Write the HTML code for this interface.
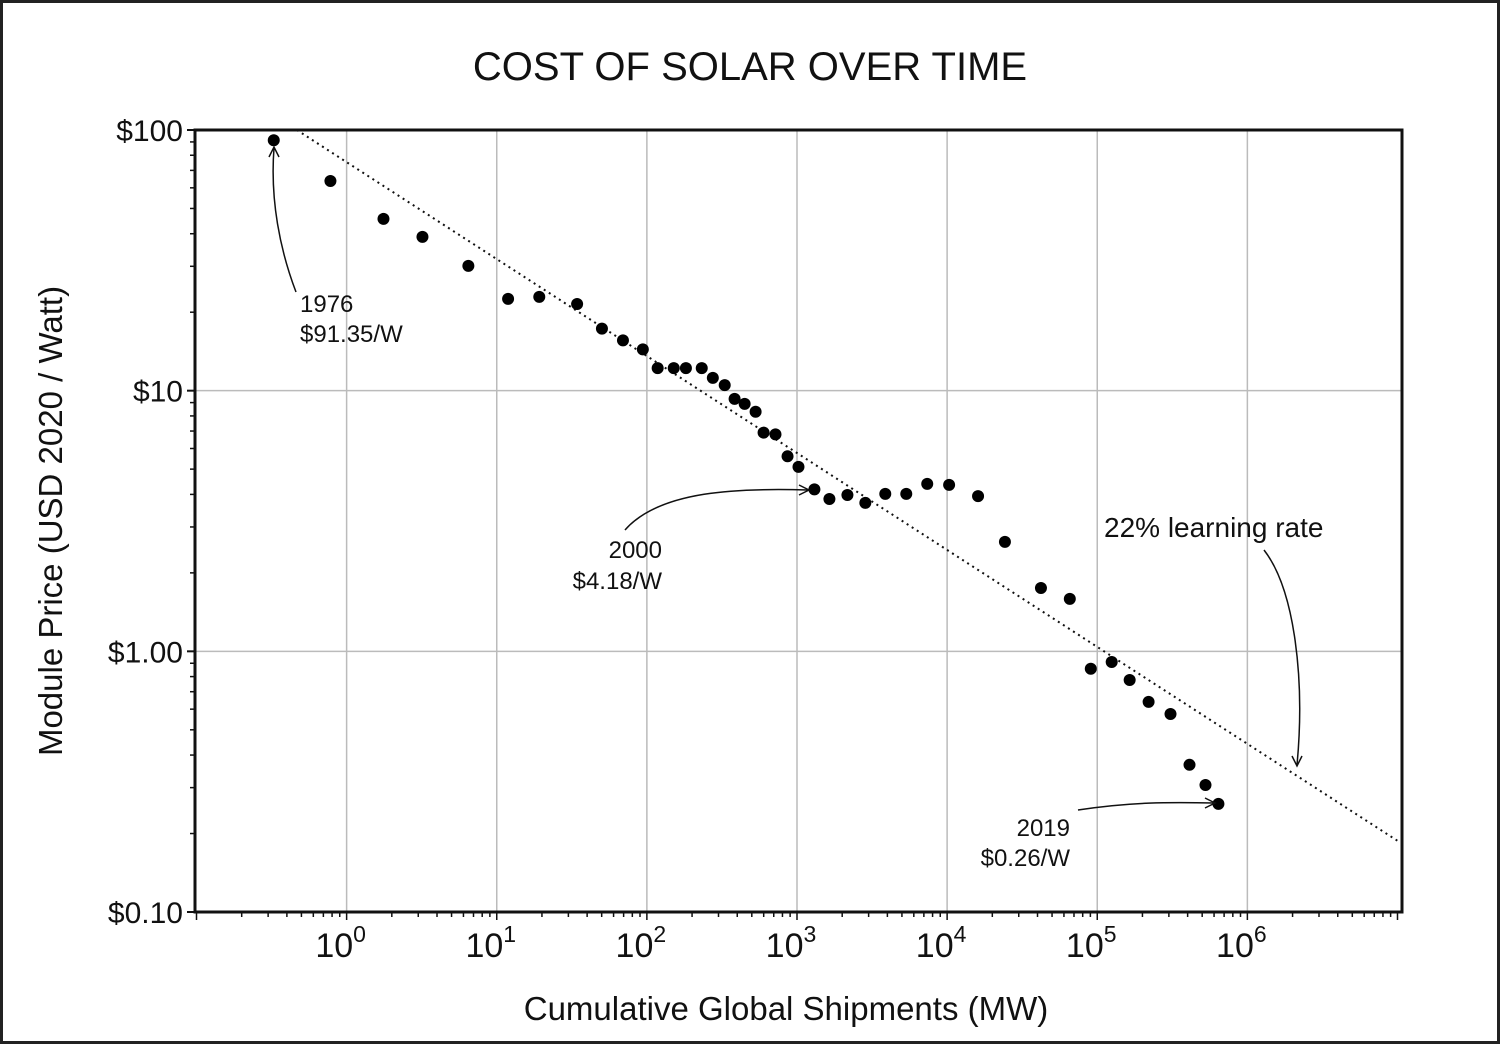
<!DOCTYPE html>
<html><head><meta charset="utf-8"><style>
body{margin:0;background:#fff}
svg text{font-family:"Liberation Sans",sans-serif;fill:#111}
</style></head><body>
<svg width="1500" height="1044" viewBox="0 0 1500 1044">
<rect x="1.5" y="1.5" width="1497" height="1041" fill="#fff" stroke="#222" stroke-width="3"/>
<text x="750" y="80" font-size="40" text-anchor="middle">COST OF SOLAR OVER TIME</text>
<g id="grid"></g>
<g id="trend"></g>
<g id="pts"></g>
<g id="axes"></g>
<text transform="translate(62,521) rotate(-90)" font-size="33" text-anchor="middle">Module Price (USD 2020 / Watt)</text>
<text x="786" y="1020" font-size="33" text-anchor="middle">Cumulative Global Shipments (MW)</text>
<g>
<text x="300" y="312" font-size="24">1976</text><text x="300" y="342" font-size="24">$91.35/W</text>
<path d="M296,292 C280,250 270,200 274,148" fill="none" stroke="#111" stroke-width="1.5"/>
<path d="M269,157 L274,147 L279,157" fill="none" stroke="#111" stroke-width="1.5"/>
</g>
<g>
<text x="662" y="558" font-size="24" text-anchor="end">2000</text><text x="662" y="589" font-size="24" text-anchor="end">$4.18/W</text>
<path d="M625,530 C660,490 740,488 808,490" fill="none" stroke="#111" stroke-width="1.5"/>
<path d="M799,485 L809,490 L799,495" fill="none" stroke="#111" stroke-width="1.5"/>
</g>
<g>
<text x="1070" y="836" font-size="24" text-anchor="end">2019</text><text x="1070" y="866" font-size="24" text-anchor="end">$0.26/W</text>
<path d="M1078,810 C1130,802 1170,802 1214,803" fill="none" stroke="#111" stroke-width="1.5"/>
<path d="M1205,798 L1215,803 L1205,808" fill="none" stroke="#111" stroke-width="1.5"/>
</g>
<g>
<text x="1104" y="537" font-size="28">22% learning rate</text>
<path d="M1264,550 C1295,590 1305,680 1297,765" fill="none" stroke="#111" stroke-width="1.5"/>
<path d="M1292,756 L1297,766 L1302,756" fill="none" stroke="#111" stroke-width="1.5"/>
</g>
</svg>
<script>
const shipments=[0.327,0.78,1.76,3.2,6.47,11.9,19.2,34.3,50.2,69.3,94,118,151,182,232,275,330,384,448,530,599,719,865,1023,1306,1644,2167,2852,3873,5344,7370,10310,16070,24270,42170,65650,90570,124800,164400,219800,307600,411700,526000,641500];
const prices=[91.35,63.7,45.6,38.9,30.1,22.5,22.9,21.5,17.3,15.6,14.4,12.2,12.2,12.2,12.2,11.2,10.5,9.3,8.9,8.3,6.9,6.8,5.6,5.1,4.18,3.84,3.98,3.71,4.02,4.02,4.39,4.35,3.94,2.63,1.75,1.59,0.857,0.91,0.776,0.64,0.575,0.367,0.307,0.26];
const yTickVals=[100,10,1,0.1];
const yTickLabels=["$100","$10","$1.00","$0.10"];
const xTickExps=[0,1,2,3,4,5,6];
const trendStart=[0.466,100];
const trendEnd=[10230000,0.186];
const NS="http://www.w3.org/2000/svg";
const L=195,R=1402,T=130,B=912;
const xMinLog=-1.01,xMaxLog=7.03,yMinLog=-1,yMaxLog=2;
function X(v){return L+(Math.log10(v)-xMinLog)/(xMaxLog-xMinLog)*(R-L);}
function Y(v){return B-(Math.log10(v)-yMinLog)/(yMaxLog-yMinLog)*(B-T);}
function mk(tag,attrs,parent){const e=document.createElementNS(NS,tag);for(const k in attrs)e.setAttribute(k,attrs[k]);parent.appendChild(e);return e;}
const grid=document.getElementById('grid'),axes=document.getElementById('axes');
xTickExps.forEach(p=>{const x=X(Math.pow(10,p));
 const g=mk('line',{x1:x,x2:x,y1:T,y2:B,stroke:'#bbb','stroke-width':1.5},grid);
 
 
 const t=mk('text',{x:x-6,y:957,'font-size':34,'text-anchor':'middle'},axes);
 
 
 t.textContent='10';
 const s=mk('tspan',{dy:-15,'font-size':23},t);s.textContent=String(p);
});
yTickVals.forEach((v,i)=>{const y=Y(v);
 if(i>0&&i<3){const g=mk('line',{x1:L,x2:R,y1:y,y2:y,stroke:'#bbb','stroke-width':1.5},grid);
 
 }
 mk('line',{x1:L-8,x2:L,y1:y,y2:y,stroke:'#111','stroke-width':2},axes);
 const t=mk('text',{x:183,y:y+11,'font-size':30,'text-anchor':'end'},axes);
 
 
 t.textContent=yTickLabels[i];
});
for(let p=-1;p<=7;p++)for(let m=1;m<10;m++){const v=m*Math.pow(10,p);const x=X(v);if(x<L||x>R)continue;
 mk('line',{x1:x,x2:x,y1:B,y2:B+(m==1?8:5),stroke:'#111','stroke-width':1.5},axes);}
for(let p=-1;p<2;p++)for(let m=2;m<10;m++){const y=Y(m*Math.pow(10,p));
 mk('line',{x1:L-5,x2:L,y1:y,y2:y,stroke:'#111','stroke-width':1.5},axes);}
const box=mk('rect',{x:L,y:T,width:R-L,height:B-T,fill:'none',stroke:'#111','stroke-width':3},axes);


const tl=mk('line',{x1:X(trendStart[0]),y1:Y(trendStart[1]),x2:X(trendEnd[0]),y2:Y(trendEnd[1]),stroke:'#111','stroke-width':2,'stroke-dasharray':'2 4'},document.getElementById('trend'));


const pts=document.getElementById('pts');
shipments.forEach((s,i)=>{const c=mk('circle',{cx:X(s),cy:Y(prices[i]),r:6,fill:'#000'},pts);
 
 });
</script>
</body></html>
